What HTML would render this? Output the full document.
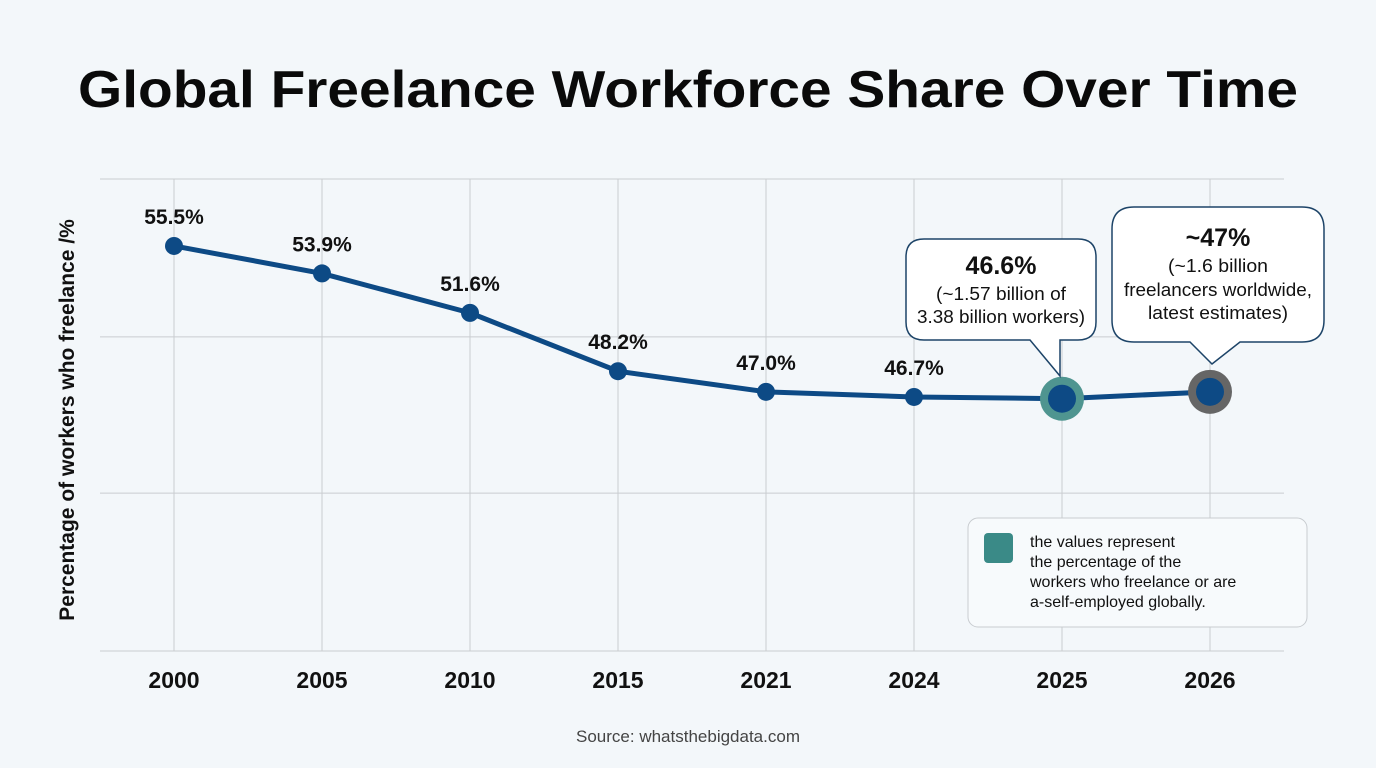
<!DOCTYPE html>
<html><head><meta charset="utf-8"><style>
body{margin:0;width:1376px;height:768px;background:#f3f7fa;overflow:hidden;font-family:"Liberation Sans",sans-serif}
svg{display:block}
</style></head><body>
<svg width="1376" height="768">
<text x="688" y="107" text-anchor="middle" font-size="52" font-weight="bold" fill="#0a0a0a" textLength="1220" lengthAdjust="spacingAndGlyphs">Global Freelance Workforce Share Over Time</text>
<g id="grid"></g>
<text transform="translate(74,420) rotate(-90)" text-anchor="middle" font-size="21" font-weight="bold" fill="#111">Percentage of workers who freelance /%</text>
<g id="marks"></g>
<g>
<path d="M924,239 H1078 Q1096,239 1096,257 V322 Q1096,340 1078,340 H1060 V376 L1030,340 H924 Q906,340 906,322 V257 Q906,239 924,239 Z" fill="#fff" stroke="#1d4468" stroke-width="1.5"/>
<text x="1001" y="274" text-anchor="middle" font-size="25" font-weight="bold" fill="#111">46.6%</text>
<text x="1001" y="300" text-anchor="middle" font-size="18" fill="#111" textLength="130" lengthAdjust="spacingAndGlyphs">(~1.57 billion of</text>
<text x="1001" y="323" text-anchor="middle" font-size="18" fill="#111" textLength="168" lengthAdjust="spacingAndGlyphs">3.38 billion workers)</text>
</g>
<g>
<path d="M1134,207 H1302 Q1324,207 1324,229 V320 Q1324,342 1302,342 H1240 L1212,364 L1190,342 H1134 Q1112,342 1112,320 V229 Q1112,207 1134,207 Z" fill="#fff" stroke="#1d4468" stroke-width="1.5"/>
<text x="1218" y="246" text-anchor="middle" font-size="25" font-weight="bold" fill="#111">~47%</text>
<text x="1218" y="272" text-anchor="middle" font-size="18" fill="#111" textLength="100" lengthAdjust="spacingAndGlyphs">(~1.6 billion</text>
<text x="1218" y="296" text-anchor="middle" font-size="18" fill="#111" textLength="188" lengthAdjust="spacingAndGlyphs">freelancers worldwide,</text>
<text x="1218" y="319" text-anchor="middle" font-size="18" fill="#111" textLength="140" lengthAdjust="spacingAndGlyphs">latest estimates)</text>
</g>
<g>
<rect x="968" y="518" width="339" height="109" rx="10" fill="#f7fafc" stroke="#c8ccd0"/>
<rect x="984" y="533" width="29" height="30" rx="4" fill="#3a8a87"/>
<text font-size="16" fill="#111">
<tspan x="1030" y="547">the values represent</tspan>
<tspan x="1030" y="567">the percentage of the</tspan>
<tspan x="1030" y="587">workers who freelance or are</tspan>
<tspan x="1030" y="607">a-self-employed globally.</tspan></text>
</g>
<text x="688" y="742" text-anchor="middle" font-size="17" fill="#444">Source: whatsthebigdata.com</text>
</svg>
<script>
const categories=["2000","2005","2010","2015","2021","2024","2025","2026"];
const values=[55.5,53.9,51.6,48.2,47.0,46.7,46.6,47];
const valueLabels=["55.5%","53.9%","51.6%","48.2%","47.0%","46.7%","",""];
const yTicks=[31.9,41.1,50.2,59.4];
const NS="http://www.w3.org/2000/svg";
const x=i=>174+i*148;
const y=v=>651-(v-31.9)/(59.4-31.9)*472;
function mk(t,a,p){const e=document.createElementNS(NS,t);for(const k in a)e.setAttribute(k,a[k]);p.appendChild(e);return e;}
const grid=document.getElementById('grid'),marks=document.getElementById('marks');
yTicks.forEach(t=>{const l=mk('line',{x1:100,x2:1284,y1:y(t),y2:y(t),stroke:'#c9ccd0','stroke-width':1},grid);

});
categories.forEach((c,i)=>{const l=mk('line',{x1:x(i),x2:x(i),y1:179,y2:651,stroke:'#c9ccd0','stroke-width':1},grid);


const t=mk('text',{x:x(i),y:688,'text-anchor':'middle','font-size':23,'font-weight':'bold',fill:'#111'},grid);t.textContent=c;

});
const line=mk('polyline',{points:values.map((v,i)=>x(i)+','+y(v)).join(' '),fill:'none',stroke:'#0d4a85','stroke-width':5,'stroke-linejoin':'round'},marks);


values.forEach((v,i)=>{
 if(i===6){const h=mk('circle',{cx:x(i),cy:y(v),r:22,fill:'#4f9590'},marks);}
 if(i===7){const h=mk('circle',{cx:x(i),cy:y(v),r:22,fill:'#666'},marks);}
 const c=mk('circle',{cx:x(i),cy:y(v),r:i>=6?14:9,fill:'#0d4a85'},marks);
 
 
 if(valueLabels[i]){const t=mk('text',{x:x(i),y:y(v)-22,'text-anchor':'middle','font-size':21,'font-weight':'bold',fill:'#111'},marks);t.textContent=valueLabels[i];
 
 }
});
</script>
</body></html>
